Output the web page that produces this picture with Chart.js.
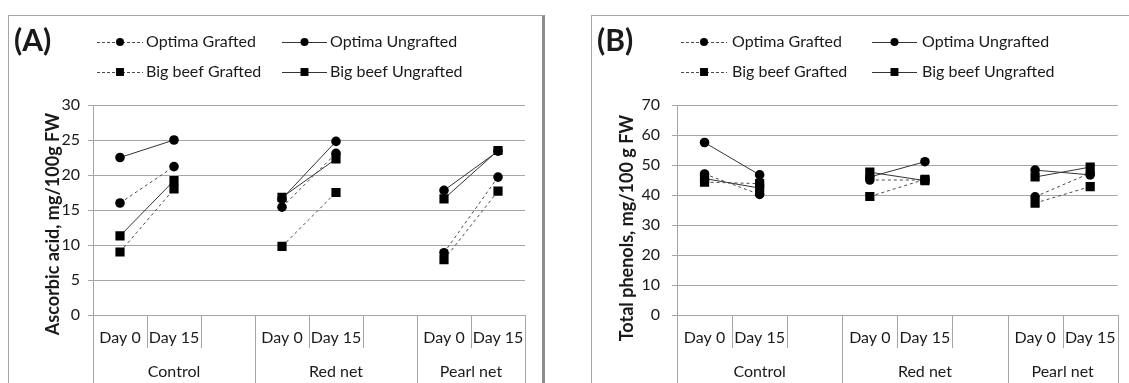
<!DOCTYPE html>
<html>
<head>
<meta charset="utf-8">
<script src="https://cdn.jsdelivr.net/npm/chart.js@4.4.1/dist/chart.umd.min.js"></script>
<style>
body{margin:0;background:#fff;}
#page{position:relative;width:1129px;height:383px;overflow:hidden;background:#fff;}
.frame{position:absolute;border:1px solid #a6a6a6;border-right:3px solid #8c8c8c;box-sizing:border-box;}
canvas{position:absolute;top:0;}
</style>
</head>
<body>
<div id="page">
  <div class="frame" style="left:8px;top:15px;width:537px;height:400px"></div>
  <div class="frame" style="left:591px;top:15px;width:560px;height:400px"></div>
  <canvas id="chartA" width="560" height="383" style="left:0"></canvas>
  <canvas id="chartB" width="569" height="383" style="left:560px"></canvas>
</div>
<script>
// ===== DATA =====
const dayLabels = ['Day 0', 'Day 15', '', 'Day 0', 'Day 15', '', 'Day 0', 'Day 15'];
const groupNames = ['Control', 'Red net', 'Pearl net'];
const groupSizes = [3, 3, 2];
const seriesNames = ['Optima Grafted', 'Optima Ungrafted', 'Big beef Grafted', 'Big beef Ungrafted'];

// (A) ascorbic acid
const aOptimaGrafted    = [16.0, 21.2, null, 15.4, 23.1, null, 8.9, 19.7];
const aOptimaUngrafted  = [22.5, 25.0, null, 16.6, 24.8, null, 17.8, 23.4];
const aBigbeefGrafted   = [9.0, 18.0, null, 9.8, 17.5, null, 7.9, 17.7];
const aBigbeefUngrafted = [11.3, 19.2, null, 16.8, 22.3, null, 16.6, 23.5];

// (B) total phenols
const bOptimaGrafted    = [47.0, 40.2, null, 45.0, 45.0, null, 39.4, 47.3];
const bOptimaUngrafted  = [57.5, 46.7, null, 46.0, 51.1, null, 48.3, 46.7];
const bBigbeefGrafted   = [44.3, 43.8, null, 39.5, 45.2, null, 37.3, 42.8];
const bBigbeefUngrafted = [45.5, 42.3, null, 47.6, 44.8, null, 46.0, 49.3];

const FONT = 'Lato';
const GRID = '#a6a6a6';
const TEXT = '#1a1a1a';

// line / marker style per series
function makeSets(values){
    const styles = [
        {dash: [3, 3], point: 'circle', r: 4.8},
        {dash: [],     point: 'circle', r: 4.8},
        {dash: [3, 3], point: 'rect',   r: 6.5},
        {dash: [],     point: 'rect',   r: 6.5}
    ];
    return values.map((v, i) => ({
        label: seriesNames[i],
        data: v,
        borderColor: styles[i].dash.length ? '#4a4a4a' : '#333',
        borderWidth: 1,
        borderDash: styles[i].dash,
        pointStyle: styles[i].point,
        pointRadius: styles[i].r,
        pointBackgroundColor: '#000',
        pointBorderColor: '#000',
        pointBorderWidth: 0,
        spanGaps: false,
        tension: 0
    }));
}

// ===== PANEL DECORATIONS (legend, letter, axis title, category groups) =====
const panelDeco = {
    id: 'panelDeco',
    afterDraw(chart, args, o){
        const ctx = chart.ctx;
        const xs = chart.scales.x;
        ctx.save();

        // category separators under the axis
        ctx.strokeStyle = GRID;
        ctx.lineWidth = 1;
        const edges = [0];
        let acc = 0;
        groupSizes.forEach(n => { acc += n; edges.push(acc); });
        for (let k = 0; k <= dayLabels.length; k++) {
            const x = Math.round(xs.getPixelForValue(k - 0.5)) + 0.5;
            const full = edges.includes(k);
            ctx.beginPath();
            ctx.moveTo(x, xs.top);
            ctx.lineTo(x, full ? chart.height : xs.top + 33);
            ctx.stroke();
        }

        // group names
        ctx.fillStyle = TEXT;
        ctx.font = '16px ' + FONT;
        ctx.textAlign = 'center';
        ctx.textBaseline = 'middle';
        for (let g = 0; g < groupNames.length; g++) {
            const x0 = xs.getPixelForValue(edges[g] - 0.5);
            const x1 = xs.getPixelForValue(edges[g + 1] - 0.5);
            ctx.fillText(groupNames[g], (x0 + x1) / 2, 372);
        }

        // panel letter
        ctx.font = 'bold 30px ' + FONT;
        ctx.textAlign = 'left';
        ctx.fillText(o.letter, o.letterX, 41);

        // y axis title
        ctx.save();
        ctx.translate(o.titleX, o.titleY);
        ctx.rotate(-Math.PI / 2);
        ctx.font = 'bold 18px ' + FONT;
        ctx.textAlign = 'center';
        ctx.fillText(o.title, 0, 0);
        ctx.restore();

        // legend, 2 x 2
        chart.data.datasets.forEach((ds, i) => {
            const col = o.legendCols[i % 2];
            const y = i < 2 ? 42 : 72;
            ctx.strokeStyle = ds.borderColor;
            ctx.lineWidth = 1;
            ctx.setLineDash(ds.borderDash.length ? [3, 2] : []);
            ctx.beginPath();
            ctx.moveTo(col.x0, y + 0.5);
            ctx.lineTo(col.x1, y + 0.5);
            ctx.stroke();
            ctx.setLineDash([]);
            ctx.fillStyle = '#000';
            Chart.helpers.drawPoint(ctx, {
                pointStyle: ds.pointStyle,
                radius: ds.pointStyle === 'rect' ? 5.6 : 4,
                rotation: 0,
                borderWidth: 0
            }, (col.x0 + col.x1) / 2, y);
            ctx.fillStyle = TEXT;
            ctx.font = '16px ' + FONT;
            ctx.textAlign = 'left';
            ctx.textBaseline = 'middle';
            ctx.fillText(ds.label, col.tx, y);
        });

        ctx.restore();
    }
};

function makeChart(id, values, yMax, yStep, yWidth, tickPad, padRight, deco){
    return new Chart(document.getElementById(id), {
        type: 'line',
        data: {
            labels: dayLabels,
            datasets: makeSets(values)
        },
        options: {
            responsive: false,
            animation: false,
            layout: {
                padding: { top: 105, right: padRight, left: 0, bottom: 0 }
            },
            plugins: {
                legend: { display: false },
                tooltip: { enabled: false },
                panelDeco: deco
            },
            scales: {
                x: {
                    offset: true,
                    grid: { display: false, drawTicks: false },
                    border: { color: GRID },
                    ticks: {
                        color: TEXT,
                        font: { family: FONT, size: 16 },
                        padding: 13,
                        autoSkip: false,
                        maxRotation: 0
                    },
                    afterFit: s => { s.height = 68; }
                },
                y: {
                    min: 0,
                    max: yMax,
                    ticks: {
                        stepSize: yStep,
                        color: TEXT,
                        font: { family: FONT, size: 16 },
                        padding: tickPad
                    },
                    grid: { color: GRID, tickLength: 5 },
                    border: { color: GRID },
                    afterFit: s => { s.width = yWidth; }
                }
            }
        },
        plugins: [panelDeco]
    });
}

// INIT
makeChart('chartA',
    [aOptimaGrafted, aOptimaUngrafted, aBigbeefGrafted, aBigbeefUngrafted],
    30, 5, 93, 8, 35,
    {
        letter: '(A)', letterX: 14,
        title: 'Ascorbic acid, mg/100g FW', titleX: 53, titleY: 224,
        legendCols: [{x0: 97, x1: 143, tx: 146}, {x0: 282, x1: 327, tx: 330}]
    });

makeChart('chartB',
    [bOptimaGrafted, bOptimaUngrafted, bBigbeefGrafted, bBigbeefUngrafted],
    70, 10, 117, 12, 8,
    {
        letter: '(B)', letterX: 37,
        title: 'Total phenols, mg/100 g FW', titleX: 67, titleY: 228,
        legendCols: [{x0: 121, x1: 167, tx: 172}, {x0: 312, x1: 357, tx: 362}]
    });
</script>
</body>
</html>
